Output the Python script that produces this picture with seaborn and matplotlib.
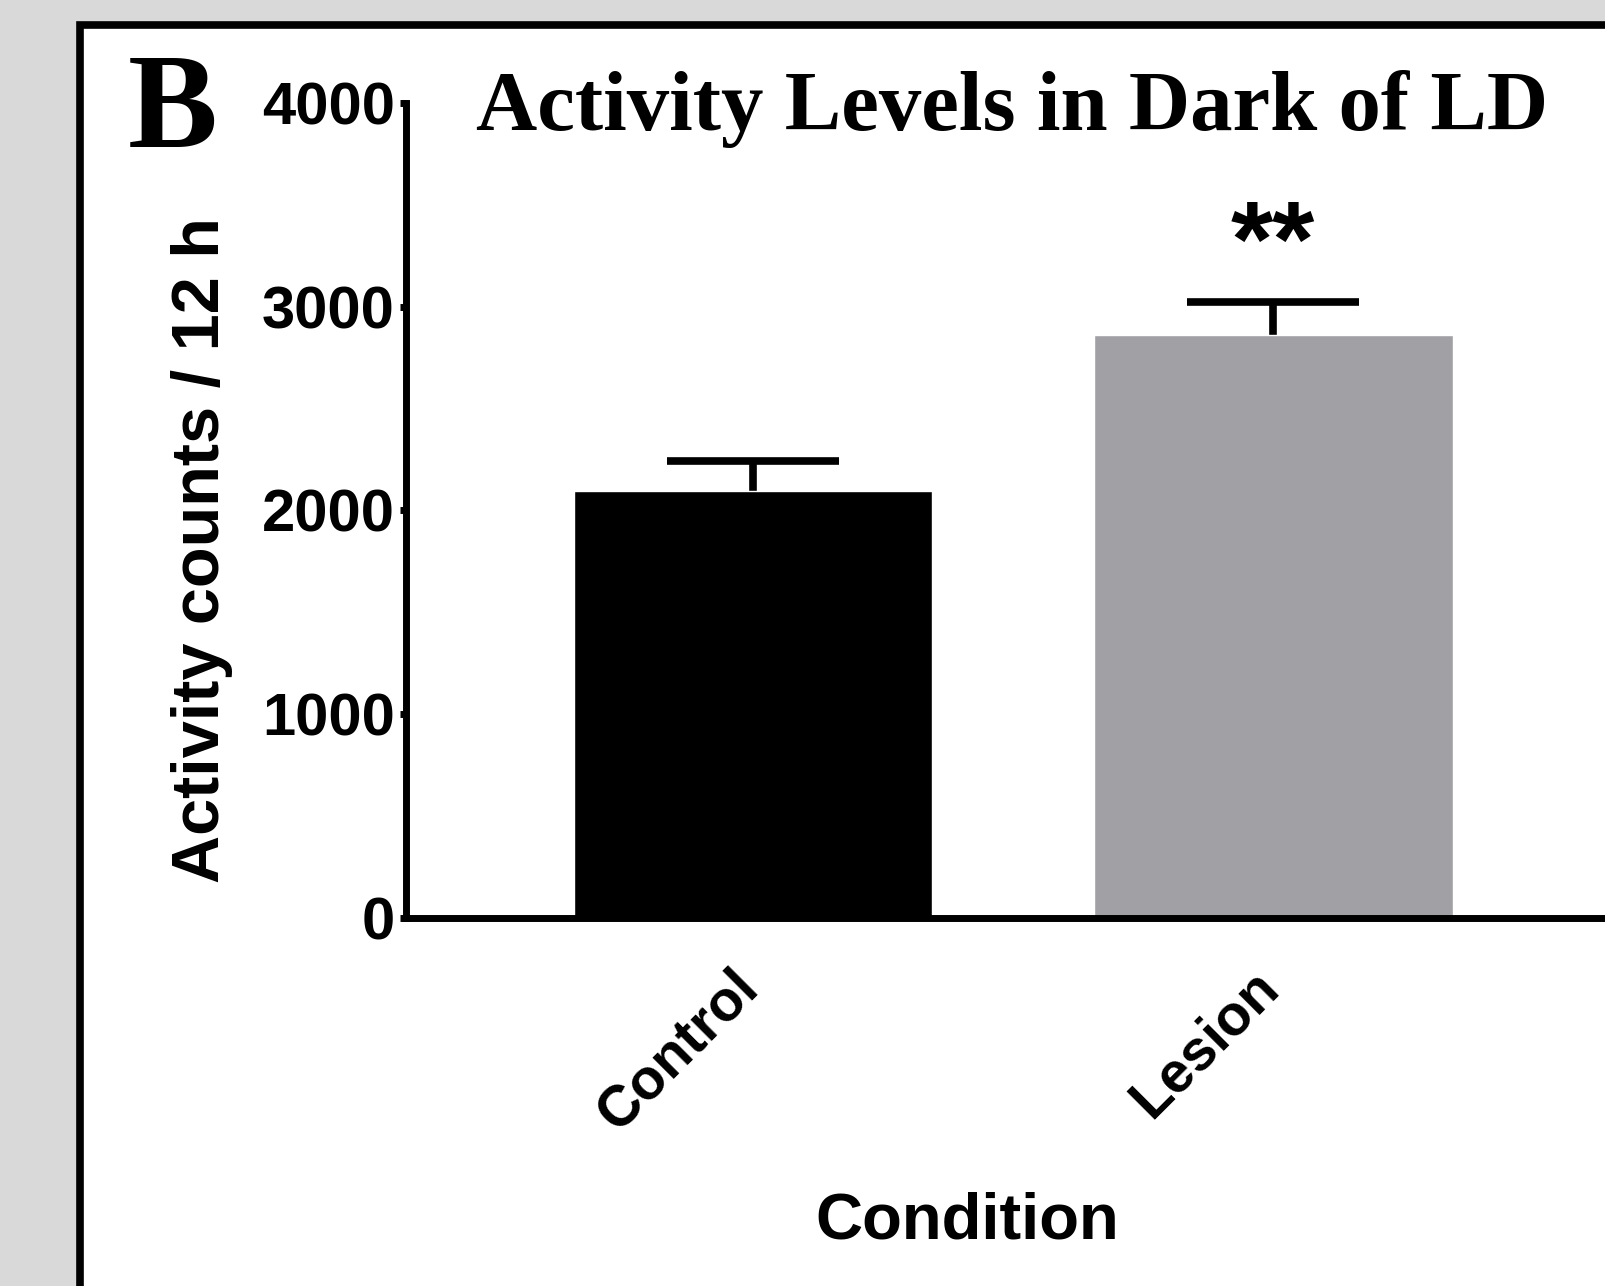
import numpy as np
import pandas as pd
import seaborn as sns
import matplotlib.pyplot as plt
from matplotlib.patches import Rectangle
from matplotlib.transforms import ScaledTranslation

conditions = ['Control', 'Lesion']
means = [2095, 2860]
sems = [150, 162]
bar_colors = ['#000000', '#a1a1a5']
y_ticks = [0, 1000, 2000, 3000, 4000]

df = pd.DataFrame({'Condition': conditions, 'Activity': means})

sns.set_style('ticks')
plt.rcParams['font.family'] = ['Liberation Sans', 'DejaVu Sans']
plt.rcParams['font.weight'] = 'bold'
plt.rcParams['text.color'] = 'black'
plt.rcParams['axes.labelcolor'] = 'black'
plt.rcParams['axes.edgecolor'] = 'black'
plt.rcParams['xtick.color'] = 'black'
plt.rcParams['ytick.color'] = 'black'

fig = plt.figure(figsize=(16.05, 12.86), dpi=100, facecolor='#d9d9d9')

# white panel with thick black frame, cut off at right and bottom
panel = Rectangle((80 / 1605, -0.1), 1.0, 1.0806, transform=fig.transFigure,
                  facecolor='white', edgecolor='black', lw=5.5, zorder=-1)
fig.add_artist(panel)

ax = fig.add_axes([0.253, 0.2862, 0.747, 0.6337])
ax.set_facecolor('white')

sns.barplot(data=df, x='Condition', y='Activity', hue='Condition',
            palette=bar_colors, saturation=1, width=0.69, errorbar=None,
            legend=False, ax=ax, zorder=2)
ax.errorbar(x=[0, 1], y=means, yerr=sems, fmt='none', ecolor='black',
            elinewidth=5.5, capsize=62, capthick=5.5, zorder=1)

ax.set_xlim(-0.667, 1.638)
ax.set_ylim(0, 4000)
ax.set_yticks(y_ticks)
ax.set_yticklabels([str(v) for v in y_ticks], fontsize=43, fontweight='bold')
sns.despine(ax=ax)
for side in ['left', 'bottom']:
    ax.spines[side].set_linewidth(5)
    ax.spines[side].set_color('black')
ax.tick_params(axis='y', length=4, width=5, pad=4, direction='out', colors='black')
ax.tick_params(axis='x', length=0, pad=30, colors='black')

ax.set_xticks([0, 1])
ax.set_xticklabels(conditions, rotation=45, ha='right', fontsize=41, fontweight='bold')
for lbl in ax.get_xticklabels():
    lbl.set_transform(lbl.get_transform() + ScaledTranslation(0.16, 0, fig.dpi_scale_trans))

ax.set_ylabel('Activity counts / 12 h', fontsize=48, fontweight='bold', color='black')
ax.yaxis.set_label_coords(-0.144, 0.452)
ax.set_xlabel('Condition', fontsize=47, fontweight='bold', color='black')
ax.xaxis.set_label_coords(0.468, -0.336)

ax.text(1, 3150, '**', ha='center', va='baseline', fontsize=78, fontweight='bold', color='black')

fig.text(0.6305, 0.8989, 'Activity Levels in Dark of LD', ha='center', va='baseline',
         fontsize=61, fontweight='bold', family='Liberation Serif', color='black')
fig.text(128 / 1605, 0.8857, 'B', ha='left', va='baseline',
         fontsize=97, fontweight='bold', family='Liberation Serif', color='black')

fig.savefig('out.png', dpi=100, facecolor=fig.get_facecolor())
